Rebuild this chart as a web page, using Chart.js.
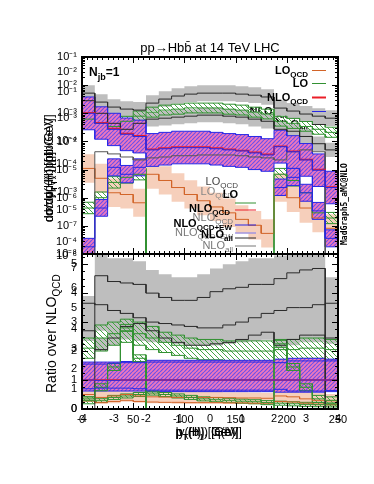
<!DOCTYPE html>
<html>
<head>
<meta charset="utf-8">
<script src="https://cdn.jsdelivr.net/npm/chart.js@4/dist/chart.umd.min.js"></script>
<style>
  html, body { margin: 0; padding: 0; background: #fff; }
  #wrap { position: relative; width: 374px; height: 484px; }
  canvas { position: absolute; left: 0; top: 0; }
</style>
</head>
<body>
<div id="wrap">
  <canvas id="top" width="374" height="484"></canvas>
  <canvas id="bot" width="374" height="484"></canvas>
</div>
<script>
// bin edges, pT(H) [GeV]
const binEdges = [0, 12.5, 25, 37.5, 50, 62.5, 75, 87.5, 100, 112.5, 125, 137.5, 150, 162.5, 175, 187.5, 200, 212.5, 225, 237.5, 250];

// tick labels
const xTicksA = [0, 50, 100, 150, 200, 250];
const xTicksB = [-4, -3, -2, -1, 0, 1, 2, 3, 4];
const topTicksA = [1e-8, 1e-7, 1e-6, 1e-5, 1e-4, 1e-3, 1e-2, 1e-1];
const topTicksB = [1e-6, 1e-5, 1e-4, 1e-3, 1e-2];
const topTicksC = [1e-4, 1e-3, 1e-2, 1e-1];
const ratioTicksA = [0, 1, 2, 3, 4, 5];
const ratioTicksB = [0, 1, 2, 3, 4, 5, 6, 7];

// legend labels (main text, subscript)
const legendMain = ['LO', 'LO', 'NLO', 'NLO', 'NLO'];
const legendSub = ['QCD', '', 'QCD', 'QCD+EW', 'all'];

// --- top panel: dsigma/dpT [pb/GeV] ---
const nloAllA = [5.2e-3, 2.5e-3, 1.66e-3, 1.41e-3, 1.3e-3, 2.3e-3, 3.2e-3, 4.1e-3, 4.8e-3, 5.2e-3, 5.2e-3, 5.2e-3, 4.8e-3, 4.4e-3, 3.8e-3, 1.53e-3, 1.2e-3, 9.4e-4, 7.9e-4, 6.7e-4];
const nloAllAHi = [9.9e-3, 4.75e-3, 3.15e-3, 2.7e-3, 2.5e-3, 4.4e-3, 6.1e-3, 7.8e-3, 9.1e-3, 9.9e-3, 9.9e-3, 9.9e-3, 9.1e-3, 8.4e-3, 7.2e-3, 2.9e-3, 2.3e-3, 1.8e-3, 1.5e-3, 1.27e-3];
const nloAllALo = [2.7e-3, 1.3e-3, 8.7e-4, 7.4e-4, 6.8e-4, 1.2e-3, 1.7e-3, 2.2e-3, 2.5e-3, 2.7e-3, 2.7e-3, 2.7e-3, 2.5e-3, 2.3e-3, 2.0e-3, 8.1e-4, 6.3e-4, 4.9e-4, 4.2e-4, 3.5e-4];

const nloAllB = [2.8e-3, 1.0e-3, 4.4e-4, 2.7e-4, 4.4e-4, 6.2e-4, 6.7e-4, 7.3e-4, 7.9e-4, 8.6e-4, 8.6e-4, 7.9e-4, 7.3e-4, 6.2e-4, 5.2e-4, 2.7e-4, 2.3e-4, 1.5e-4, 8.3e-5, 5.0e-5];
const nloAllBHi = [5.0e-3, 1.8e-3, 7.9e-4, 4.9e-4, 7.9e-4, 1.1e-3, 1.2e-3, 1.3e-3, 1.4e-3, 1.55e-3, 1.55e-3, 1.4e-3, 1.3e-3, 1.1e-3, 9.4e-4, 4.9e-4, 4.1e-4, 2.7e-4, 1.5e-4, 9.0e-5];
const nloAllBLo = [1.6e-3, 5.6e-4, 2.4e-4, 1.5e-4, 2.4e-4, 3.4e-4, 3.7e-4, 4.1e-4, 4.4e-4, 4.8e-4, 4.8e-4, 4.4e-4, 4.1e-4, 3.4e-4, 2.9e-4, 1.5e-4, 1.3e-4, 8.3e-5, 4.6e-5, 2.8e-5];

const nloAllC = [0, 4.3e-5, 3.6e-5, 2.8e-5, 2.2e-5, 2.6e-5, 2.8e-5, 3.1e-5, 3.1e-5, 3.3e-5, 3.3e-5, 3.3e-5, 3.1e-5, 2.8e-5, 2.6e-5, 2.2e-5, 4.3e-5, 5.0e-5, 4.3e-5, 0];

const loA = [6.2e-4, 4.4e-4, 3.4e-4, 5.2e-4, 7.9e-4, 1.1e-3, 1.3e-3, 1.4e-3, 1.55e-3, 1.55e-3, 1.55e-3, 1.4e-3, 1.3e-3, 1.1e-3, 9.4e-4, 5.2e-4, 4.4e-4, 3.4e-4, 2.7e-4, 2.1e-4];
const loAHi = [9.3e-4, 6.6e-4, 5.1e-4, 7.8e-4, 1.2e-3, 1.65e-3, 1.95e-3, 2.1e-3, 2.3e-3, 2.3e-3, 2.3e-3, 2.1e-3, 1.95e-3, 1.65e-3, 1.4e-3, 7.8e-4, 6.6e-4, 5.1e-4, 4.0e-4, 3.2e-4];
const loALo = [4.1e-4, 2.9e-4, 2.3e-4, 3.5e-4, 5.3e-4, 7.3e-4, 8.7e-4, 9.3e-4, 1.03e-3, 1.03e-3, 1.03e-3, 9.3e-4, 8.7e-4, 7.3e-4, 6.3e-4, 3.5e-4, 2.9e-4, 2.3e-4, 1.8e-4, 1.4e-4];

const loB = [4.3e-7, 1.0e-6, 3.5e-6, 5.3e-6, 6.8e-6, 0, 0, 0, 0, 0, 0, 0, 0, 0, 0, 6.8e-6, 4.1e-6, 1.5e-6, 2.9e-7, 1.9e-7];
const loBHi = [6.9e-7, 1.6e-6, 5.6e-6, 8.5e-6, 1.1e-5, 0, 0, 0, 0, 0, 0, 0, 0, 0, 0, 1.1e-5, 6.6e-6, 2.4e-6, 4.6e-7, 3.0e-7];
const loBLo = [2.7e-7, 6.3e-7, 2.2e-6, 3.3e-6, 4.3e-6, 0, 0, 0, 0, 0, 0, 0, 0, 0, 0, 4.3e-6, 2.6e-6, 9.4e-7, 1.8e-7, 1.2e-7];

const nloQcdEwA = [1.0e-3, 4.4e-4, 2.7e-4, 1.8e-4, 1.5e-4, 5.0e-5, 5.5e-5, 6.0e-5, 6.0e-5, 6.0e-5, 5.5e-5, 5.0e-5, 4.6e-5, 3.9e-5, 3.3e-5, 6.5e-5, 4.3e-5, 2.2e-5, 9.5e-6, 2.3e-6];
const nloQcdA = [1.05e-3, 4.6e-4, 2.9e-4, 1.9e-4, 1.6e-4, 5.3e-5, 5.8e-5, 6.3e-5, 6.3e-5, 6.3e-5, 5.8e-5, 5.3e-5, 4.8e-5, 4.1e-5, 3.5e-5, 6.8e-5, 4.5e-5, 2.3e-5, 1.0e-5, 2.4e-6];
const nloBandAHi = [3.8e-3, 1.7e-3, 1.0e-3, 6.8e-4, 5.7e-4, 1.9e-4, 2.1e-4, 2.3e-4, 2.3e-4, 2.3e-4, 2.1e-4, 1.9e-4, 1.75e-4, 1.5e-4, 1.25e-4, 2.5e-4, 1.6e-4, 8.4e-5, 3.6e-5, 8.7e-6];
const nloBandALo = [2.6e-4, 1.2e-4, 7.1e-5, 4.7e-5, 3.9e-5, 1.3e-5, 1.45e-5, 1.6e-5, 1.6e-5, 1.6e-5, 1.45e-5, 1.3e-5, 1.2e-5, 1.0e-5, 8.7e-6, 1.7e-5, 1.1e-5, 5.8e-6, 2.5e-6, 6.1e-7];

const nloQcdEwB = [1.8e-8, 4.3e-7, 1.2e-5, 6.8e-6, 1.2e-5, 0, 0, 0, 0, 0, 0, 0, 0, 0, 0, 2.3e-6, 5.3e-6, 1.5e-6, 3.4e-7, 3.6e-8];
const nloBandBHi = [3.6e-8, 8.6e-7, 2.4e-5, 1.4e-5, 2.4e-5, 0, 0, 0, 0, 0, 0, 0, 0, 0, 0, 4.6e-6, 1.1e-5, 3.0e-6, 6.8e-7, 7.2e-8];
const nloBandBLo = [9e-9, 2.2e-7, 6e-6, 3.4e-6, 6e-6, 0, 0, 0, 0, 0, 0, 0, 0, 0, 0, 1.2e-6, 2.7e-6, 7.5e-7, 1.7e-7, 1.8e-8];

const loQcd = [1.1e-5, 4.9e-6, 1.5e-6, 1.3e-6, 6.6e-7, 6.8e-6, 4.1e-6, 2.3e-6, 1.3e-6, 7.8e-7, 4.7e-7, 2.9e-7, 1.7e-7, 1.05e-7, 5.4e-8, 2.3e-6, 1.0e-6, 4.3e-7, 1.9e-7, 8.2e-8];
const loQcdHi = [3.5e-5, 1.6e-5, 4.8e-6, 4.2e-6, 2.1e-6, 2.2e-5, 1.3e-5, 7.4e-6, 4.2e-6, 2.5e-6, 1.5e-6, 9.3e-7, 5.4e-7, 3.4e-7, 1.7e-7, 7.4e-6, 3.2e-6, 1.4e-6, 6.1e-7, 2.6e-7];
const loQcdLo = [3.4e-6, 1.5e-6, 4.7e-7, 4.1e-7, 2.1e-7, 2.1e-6, 1.3e-6, 7.2e-7, 4.1e-7, 2.4e-7, 1.5e-7, 9.1e-8, 5.3e-8, 3.3e-8, 1.7e-8, 7.2e-7, 3.1e-7, 1.3e-7, 5.9e-8, 2.6e-8];

// --- bottom panel: ratio over NLO_QCD ---
const rNloAllA = [0, 4.6, 4.4, 4.35, 4.3, 4.0, 3.85, 3.75, 3.75, 3.85, 4.05, 4.15, 4.2, 4.3, 4.3, 4.5, 4.7, 4.8, 4.85, 0];
const rNloAllAHi = [0, 5.4, 5.2, 5.2, 5.1, 4.8, 4.65, 4.55, 4.55, 4.65, 4.85, 5.0, 5.1, 5.2, 5.2, 5.3, 5.5, 5.6, 5.6, 0];
const rNloAllALo = [0, 3.8, 3.6, 3.5, 3.5, 3.2, 3.05, 2.95, 2.95, 3.05, 3.25, 3.35, 3.4, 3.5, 3.5, 3.7, 3.9, 4.0, 4.05, 0];

const rNloAllB = [3.65, 3.6, 3.4, 3.3, 3.15, 3.0, 2.95, 2.9, 2.85, 2.8, 2.8, 2.9, 3.0, 3.15, 3.3, 3.4, 3.5, 3.5, 3.6, 3.65];
const rNloAllBHi = [3.9, 4.5, 4.3, 4.2, 4.05, 3.9, 3.85, 3.8, 3.75, 3.7, 3.7, 3.8, 3.9, 4.05, 4.2, 4.3, 4.4, 4.4, 4.5, 4.55];
const rNloAllBLo = [2.6, 2.7, 2.5, 2.4, 2.35, 2.3, 2.3, 2.25, 2.25, 2.2, 2.2, 2.25, 2.3, 2.35, 2.4, 2.5, 2.6, 2.6, 2.7, 2.75];

const rNloAllC = [2.7, 2.05, 2.45, 2.85, 2.95, 2.7, 2.45, 2.3, 2.2, 2.2, 2.25, 2.3, 2.4, 2.55, 2.65, 2.2, 2.4, 2.55, 2.55, 2.45];
const rNloAllCHi = [3.1, 2.45, 2.85, 3.25, 3.35, 3.1, 2.85, 2.7, 2.6, 2.6, 2.65, 2.7, 2.8, 2.95, 3.05, 2.6, 2.8, 2.95, 2.95, 2.85];
const rNloAllCLo = [2.35, 2.0, 2.2, 2.5, 2.6, 2.4, 2.3, 2.25, 2.2, 2.2, 2.2, 2.25, 2.3, 2.35, 2.4, 2.1, 2.2, 2.3, 2.3, 2.25];

const rLoA = [2.1, 2.45, 2.6, 2.7, 2.6, 2.45, 2.3, 2.2, 2.1, 2.05, 2.05, 2.0, 2.0, 2.0, 2.0, 2.05, 2.05, 2.1, 2.1, 2.05];
const rLoAHi = [2.45, 2.9, 3.0, 3.1, 3.0, 2.85, 2.65, 2.55, 2.45, 2.4, 2.4, 2.35, 2.35, 2.35, 2.35, 2.4, 2.4, 2.45, 2.45, 2.4];
const rLoALo = [1.75, 2.0, 2.2, 2.3, 2.2, 2.05, 1.95, 1.85, 1.75, 1.7, 1.7, 1.65, 1.65, 1.65, 1.65, 1.7, 1.7, 1.75, 1.75, 1.7];

const rLoB = [0.3, 0.75, 1.45, 2.8, 1.75, 0, 0, 0, 0, 0, 0, 0, 0, 0, 0, 2.25, 1.45, 0.75, 0.35, 0.3];
const rLoBHi = [0.42, 0.87, 1.57, 2.92, 1.87, 0, 0, 0, 0, 0, 0, 0, 0, 0, 0, 2.37, 1.57, 0.87, 0.47, 0.42];
const rLoBLo = [0.18, 0.63, 1.33, 2.68, 1.63, 0, 0, 0, 0, 0, 0, 0, 0, 0, 0, 2.13, 1.33, 0.63, 0.23, 0.18];

const rLoC = [0.35, 0.3, 0.4, 0.45, 0.5, 0.55, 0.5, 0.45, 0.4, 0.35, 0.32, 0.3, 0.27, 0.25, 0.22, 0.2, 0.18, 0.16, 0.15, 0.14];
const rLoCHi = [0.42, 0.37, 0.47, 0.52, 0.57, 0.62, 0.57, 0.52, 0.47, 0.42, 0.39, 0.37, 0.34, 0.32, 0.29, 0.27, 0.25, 0.23, 0.22, 0.21];
const rLoCLo = [0.28, 0.23, 0.33, 0.38, 0.43, 0.48, 0.43, 0.38, 0.33, 0.28, 0.25, 0.23, 0.2, 0.18, 0.15, 0.13, 0.11, 0.09, 0.08, 0.07];

const rNloQcd = [1, 1, 1, 1, 1, 1, 1, 1, 1, 1, 1, 1, 1, 1, 1, 1, 1, 1, 1, 1];
const rNloQcdEw = [1.0, 0.99, 0.99, 1.0, 1.0, 1.0, 1.0, 1.0, 1.0, 1.0, 1.0, 1.0, 1.0, 1.0, 1.0, 1.0, 1.0, 1.0, 1.0, 1.0];
const rNloBandHi = [1.62, 1.62, 1.62, 1.64, 1.64, 1.68, 1.68, 1.68, 1.68, 1.68, 1.68, 1.68, 1.68, 1.68, 1.68, 1.72, 1.75, 1.75, 1.75, 1.72];
const rNloBandLo = [0.62, 0.62, 0.62, 0.62, 0.62, 0.6, 0.6, 0.6, 0.6, 0.6, 0.6, 0.6, 0.6, 0.6, 0.6, 0.58, 0.58, 0.58, 0.58, 0.6];
const rNloEwHi = [1.55, 1.55, 1.58, 1.6, 1.6, 1.62, 1.62, 1.62, 1.62, 1.62, 1.62, 1.62, 1.62, 1.62, 1.62, 1.6, 1.66, 1.66, 1.66, 1.66];
const rNloEwLo = [0.7, 0.72, 0.72, 0.72, 0.7, 0.65, 0.65, 0.65, 0.65, 0.65, 0.65, 0.65, 0.65, 0.65, 0.65, 0.68, 0.62, 0.62, 0.62, 0.64];

const rLoQcd = [0.5, 0.4, 0.45, 0.5, 0.45, 0.42, 0.41, 0.4, 0.4, 0.4, 0.4, 0.39, 0.38, 0.38, 0.37, 0.45, 0.42, 0.35, 0.3, 0.28];
const rLoQcdHi = [0.75, 0.65, 0.7, 0.72, 0.68, 0.62, 0.6, 0.6, 0.6, 0.6, 0.6, 0.58, 0.58, 0.57, 0.56, 0.68, 0.66, 0.6, 0.55, 0.52];
const rLoQcdLo = [0.25, 0.18, 0.2, 0.25, 0.22, 0.2, 0.2, 0.18, 0.18, 0.18, 0.18, 0.17, 0.17, 0.16, 0.15, 0.2, 0.18, 0.12, 0.1, 0.08];
const rLoQcdB = [0.28, 0.22, 0.26, 0.3, 0.26, 0.24, 0.23, 0.23, 0.22, 0.22, 0.22, 0.21, 0.21, 0.2, 0.2, 0.26, 0.24, 0.2, 0.17, 0.15];

// colours
const GRAY = '#bebebe';
const BLACK = '#2a2a2a';
const ORANGE = 'rgb(210,100,40)';
const SALMON = 'rgba(238,160,120,0.5)';
const GREEN = 'rgb(50,145,50)';
const RED = 'rgb(235,30,40)';
const BLUE = 'rgb(40,40,230)';
const FONT = "'Liberation Sans', Arial, Helvetica, sans-serif";
const SUP = { '-': '\u207b', '0': '\u2070', '1': '\u00b9', '2': '\u00b2', '3': '\u00b3', '4': '\u2074', '5': '\u2075', '6': '\u2076', '7': '\u2077', '8': '\u2078', '9': '\u2079' };

function pow10(v) {
  const e = Math.round(Math.log10(v));
  return '10' + String(e).split('').map(c => SUP[c]).join('');
}

function makeHatch(bg, fg, size, dir, lw) {
  const c = document.createElement('canvas');
  c.width = size; c.height = size;
  const g = c.getContext('2d');
  if (bg) { g.fillStyle = bg; g.fillRect(0, 0, size, size); }
  g.strokeStyle = fg; g.lineWidth = lw || 1;
  g.beginPath();
  for (let k = -1; k <= 1; k++) {
    if (dir > 0) { g.moveTo(k * size, size); g.lineTo(k * size + size, 0); }
    else { g.moveTo(k * size, 0); g.lineTo(k * size + size, size); }
  }
  g.stroke();
  return g.createPattern(c, 'repeat');
}
const purpleHatch = makeHatch('rgb(238,120,188)', 'rgb(110,80,235)', 4, 1, 1.2);
const greenHatch = makeHatch(null, 'rgb(70,165,70)', 5, -1, 1);

// contiguous runs of filled bins; 'gap' series are split at empty bins
function runs(vals, mode) {
  if (mode !== 'gap') return [[0, vals.length]];
  const out = [];
  let s = -1;
  vals.forEach((v, i) => {
    if (v > 0 && s < 0) s = i;
    if (v <= 0 && s >= 0) { out.push([s, i]); s = -1; }
  });
  if (s >= 0) out.push([s, vals.length]);
  return out;
}

// histogram as pairs of points (left edge, right edge) per bin
// empty bins in 'floor' mode drop below the log axis
function hist(vals, mode, a, b) {
  const pts = [];
  for (let i = a; i < b; i++) {
    const v = vals[i];
    const y = (v <= 0 && mode === 'floor') ? 1e-12 : v;
    pts.push({ x: binEdges[i], y: y }, { x: binEdges[i + 1], y: y });
  }
  return pts;
}

let ord = 1000;
function band(sets, lo, hi, fill, edge, mode) {
  const o = ord--;
  runs(hi, mode).forEach(r => {
    sets.push({ data: hist(lo, mode, r[0], r[1]), borderColor: edge || 'rgba(0,0,0,0)', borderWidth: edge ? 1 : 0, fill: false, order: o, yAxisID: 'y', xAxisID: 'x' });
    sets.push({ data: hist(hi, mode, r[0], r[1]), borderColor: edge || 'rgba(0,0,0,0)', borderWidth: edge ? 1 : 0, backgroundColor: fill, fill: '-1', order: o, yAxisID: 'y', xAxisID: 'x' });
  });
}
function line(sets, vals, color, width, mode) {
  const o = ord--;
  runs(vals, mode).forEach(r => {
    sets.push({ data: hist(vals, mode, r[0], r[1]), borderColor: color, borderWidth: width, fill: false, order: o, yAxisID: 'y', xAxisID: 'x' });
  });
}

// top panel datasets, back to front
const topSets = [];
band(topSets, nloAllALo, nloAllAHi, GRAY, null, 'floor');
band(topSets, nloAllBLo, nloAllBHi, GRAY, null, 'floor');
band(topSets, loQcdLo, loQcdHi, SALMON, null, 'floor');
band(topSets, loBLo, loBHi, greenHatch, GREEN, 'floor');
band(topSets, loALo, loAHi, greenHatch, GREEN, 'floor');
band(topSets, nloBandALo, nloBandAHi, purpleHatch, BLUE, 'floor');
band(topSets, nloBandBLo, nloBandBHi, purpleHatch, BLUE, 'gap');
line(topSets, loQcd, ORANGE, 1, 'floor');
line(topSets, loB, GREEN, 1, 'floor');
line(topSets, loA, GREEN, 1, 'floor');
line(topSets, nloAllC, '#555', 1, 'floor');
line(topSets, nloAllA, BLACK, 1, 'floor');
line(topSets, nloAllB, BLACK, 1, 'floor');
line(topSets, nloQcdA, RED, 1.5, 'floor');
line(topSets, nloQcdEwA, BLUE, 1, 'floor');
line(topSets, nloQcdEwB, BLUE, 1, 'gap');

// ratio datasets, back to front
const botSets = [];
band(botSets, rNloAllALo, rNloAllAHi, GRAY, null);
band(botSets, rNloAllBLo, rNloAllBHi, GRAY, null);
band(botSets, rNloAllCLo, rNloAllCHi, GRAY, null);
band(botSets, rLoQcdLo, rLoQcdHi, SALMON, null);
band(botSets, rLoALo, rLoAHi, greenHatch, GREEN);
band(botSets, rNloBandLo, rNloBandHi, purpleHatch, BLUE);
band(botSets, rLoCLo, rLoCHi, greenHatch, GREEN);
band(botSets, rLoBLo, rLoBHi, greenHatch, GREEN);
line(botSets, rLoQcd, ORANGE, 1);
line(botSets, rLoQcdB, ORANGE, 1);
line(botSets, rNloAllA, BLACK, 1);
line(botSets, rNloAllB, BLACK, 1);
line(botSets, rNloAllC, BLACK, 1);
line(botSets, rLoA, GREEN, 1);
line(botSets, rLoC, GREEN, 1);
line(botSets, rLoB, GREEN, 1);
line(botSets, rNloEwHi, BLUE, 1);
line(botSets, rNloEwLo, BLUE, 1);
line(botSets, rNloQcd, RED, 1.5);
line(botSets, rNloQcdEw, BLUE, 1);

// text with subscripts
function rich(ctx, segs, x, y, size, align, color, bold) {
  const w = segs.map(s => {
    ctx.font = (bold ? 'bold ' : '') + (s.sub ? Math.round(size * 0.72) : size) + 'px ' + FONT;
    return ctx.measureText(s.t).width;
  });
  const total = w.reduce((a, b) => a + b, 0);
  let cx = align === 'right' ? x - total : align === 'center' ? x - total / 2 : x;
  ctx.fillStyle = color; ctx.textAlign = 'left'; ctx.textBaseline = 'alphabetic';
  segs.forEach((s, i) => {
    ctx.font = (bold ? 'bold ' : '') + (s.sub ? Math.round(size * 0.72) : size) + 'px ' + FONT;
    ctx.fillText(s.t, cx, y + (s.sub ? size * 0.3 : 0));
    cx += w[i];
  });
}
function lbl(i) { return [{ t: legendMain[i] }, { t: legendSub[i], sub: true }]; }

function seg(ctx, x1, y1, x2, y2) { ctx.beginPath(); ctx.moveTo(x1, y1); ctx.lineTo(x2, y2); ctx.stroke(); }

function xTickMarks(ctx, chart) {
  const a = chart.chartArea, x = chart.scales.x;
  ctx.strokeStyle = '#000'; ctx.lineWidth = 1;
  for (let v = 0; v <= 250; v += 5) {
    const px = Math.round(x.getPixelForValue(v)) + 0.5;
    const L = v % 50 === 0 ? 6 : 3;
    seg(ctx, px, a.top, px, a.top + L);
    seg(ctx, px, a.bottom, px, a.bottom - L);
  }
}

// tick labels of the overlaid (hidden) axes, placed through their scales
function ghostY(ctx, scale, ticks, fmt, xr) {
  ctx.font = '11px ' + FONT; ctx.fillStyle = '#000';
  ctx.textAlign = 'right'; ctx.textBaseline = 'middle';
  ticks.forEach(v => ctx.fillText(fmt(v), xr, scale.getPixelForValue(v)));
}
function ghostX(ctx, scale, ticks, yt) {
  ctx.font = '11px ' + FONT; ctx.fillStyle = '#000';
  ctx.textAlign = 'center'; ctx.textBaseline = 'top';
  ticks.forEach(v => ctx.fillText(String(v), scale.getPixelForValue(v), yt));
}

const ticksStyle = { font: { family: FONT, size: 11 }, color: '#000', autoSkip: false, maxRotation: 0 };
const legendY = [74, 87, 101, 115, 128];
const legendCol = [ORANGE, GREEN, RED, BLUE, BLACK];

const decorTop = {
  id: 'decorTop',
  beforeDatasetsDraw(chart) {
    // the lower two legend entries sit under the bands
    const ctx = chart.ctx;
    ctx.save();
    for (let i = 3; i < 5; i++) rich(ctx, lbl(i), 308, legendY[i], 11, 'right', '#000', true);
    ctx.restore();
  },
  afterDatasetsDraw(chart) {
    const ctx = chart.ctx;
    ctx.save();
    for (let i = 0; i < 3; i++) rich(ctx, lbl(i), 308, legendY[i], 11, 'right', '#000', true);
    legendY.forEach((y, i) => {
      ctx.strokeStyle = legendCol[i]; ctx.lineWidth = i === 2 ? 2 : 1;
      seg(ctx, 312, y - 3.5, 326, y - 3.5);
    });
    // second legend, faint copy
    rich(ctx, lbl(0), 238, 185, 11, 'right', '#444', false);
    rich(ctx, lbl(0), 233, 195, 11, 'right', '#888', false);
    rich(ctx, lbl(1), 238, 198, 11, 'right', '#000', true);
    rich(ctx, lbl(2), 230, 212, 11, 'right', '#000', true);
    rich(ctx, lbl(2), 233, 221, 11, 'right', '#777', false);
    rich(ctx, lbl(3), 232, 227, 11, 'right', '#000', true);
    rich(ctx, lbl(3), 233, 236, 11, 'right', '#777', false);
    rich(ctx, lbl(4), 233, 238, 11, 'right', '#000', true);
    rich(ctx, lbl(4), 233, 249, 11, 'right', '#777', false);
    const samp = [[203, GREEN], [210, RED], [225, BLUE], [233, 'rgb(120,120,240)'], [238, BLACK], [246, '#777']];
    samp.forEach(s => { ctx.strokeStyle = s[1]; ctx.lineWidth = 1; seg(ctx, 235, s[0], 256, s[0]); });
    ctx.restore();
  },
  afterDraw(chart) {
    const ctx = chart.ctx, a = chart.chartArea, y = chart.scales.y;
    ctx.save();
    xTickMarks(ctx, chart);
    for (let d = -8; d <= -1; d++) {
      for (let m = 1; m <= 9; m++) {
        const v = m * Math.pow(10, d);
        if (v > 0.1001) break;
        const py = Math.round(y.getPixelForValue(v)) + 0.5;
        const L = m === 1 ? 6 : 3;
        seg(ctx, a.left, py, a.left + L, py);
        seg(ctx, a.right, py, a.right - L, py);
      }
    }
    ctx.strokeStyle = '#000'; ctx.lineWidth = 2;
    ctx.strokeRect(a.left, a.top, a.right - a.left, a.bottom - a.top);
    ghostY(ctx, chart.scales.yB, topTicksB, pow10, a.left - 5);
    ghostY(ctx, chart.scales.yC, topTicksC, pow10, a.left - 5);
    // title
    ctx.fillStyle = '#000'; ctx.textAlign = 'center'; ctx.textBaseline = 'alphabetic';
    ctx.font = '13px ' + FONT;
    ctx.fillText('pp\u2192Hbb\u0304 at 14 TeV LHC', 210, 52);
    rich(ctx, [{ t: 'N' }, { t: 'jb', sub: true }, { t: '=1' }], 89, 76, 12, 'left', '#000', true);
    // y title (overlapping variants)
    ctx.save();
    ctx.translate(53, 222); ctx.rotate(-Math.PI / 2);
    rich(ctx, [{ t: 'd\u03c3/dp' }, { t: 'T', sub: true }, { t: '(H) [pb/GeV]' }], 0, 0, 12, 'left', '#000', false);
    rich(ctx, [{ t: 'd\u03c3/dy(H) [pb]' }], 0, 0, 12, 'left', '#000', false);
    rich(ctx, [{ t: 'd\u03c3/dp' }, { t: 'T', sub: true }, { t: '(b) [pb/GeV]' }], 6, 0, 12, 'left', '#000', false);
    ctx.restore();
    // generator tag
    ctx.save();
    ctx.translate(347, 245); ctx.rotate(-Math.PI / 2);
    ctx.font = "bold 8px 'DejaVu Sans Mono', monospace"; ctx.fillStyle = '#000'; ctx.textAlign = 'left';
    ctx.fillText('MadGraph5_aMC@NLO', 0, 0);
    ctx.restore();
    ctx.restore();
  }
};

const decorBot = {
  id: 'decorBot',
  afterDraw(chart) {
    const ctx = chart.ctx, a = chart.chartArea, y = chart.scales.y;
    ctx.save();
    xTickMarks(ctx, chart);
    for (let v = 0; v <= 5.3; v += 0.25) {
      const py = Math.round(y.getPixelForValue(v)) + 0.5;
      const L = Math.abs(v - Math.round(v)) < 1e-6 ? 6 : 3;
      seg(ctx, a.left, py, a.left + L, py);
      seg(ctx, a.right, py, a.right - L, py);
    }
    ctx.strokeStyle = '#000'; ctx.lineWidth = 2;
    ctx.strokeRect(a.left, a.top, a.right - a.left, a.bottom - a.top);
    ghostY(ctx, chart.scales.y2, ratioTicksB, v => String(v), a.left - 5);
    ghostX(ctx, chart.scales.x2, xTicksB, a.bottom + 4);
    // y title
    ctx.save();
    ctx.translate(56, 393); ctx.rotate(-Math.PI / 2);
    rich(ctx, [{ t: 'Ratio over NLO' }, { t: 'QCD', sub: true }], 0, 0, 14, 'left', '#000', false);
    ctx.restore();
    // x title (overlapping variants)
    rich(ctx, [{ t: 'p' }, { t: 'T', sub: true }, { t: '(H) [GeV]' }], 207, 436, 12, 'center', '#000', false);
    rich(ctx, [{ t: '|y(H)|, |\u03b7(b)|' }], 207, 436, 12, 'center', '#000', false);
    rich(ctx, [{ t: 'p' }, { t: 'T', sub: true }, { t: '(b' }, { t: '1', sub: true }, { t: ') [GeV]' }], 209, 436, 12, 'center', '#000', false);
    ctx.restore();
  }
};

function yAxis(type, min, max, ticks, width, cb, show) {
  return {
    type: type, position: 'left', min: min, max: max, display: show,
    afterFit: s => { s.width = width; },
    afterBuildTicks: s => { s.ticks = ticks.map(v => ({ value: v })); },
    ticks: Object.assign({ callback: cb, padding: 5 }, ticksStyle),
    grid: { display: false, drawTicks: false },
    border: { display: false }
  };
}
function xAxis(min, max, ticks, height, show) {
  return {
    type: 'linear', position: 'bottom', min: min, max: max, display: show,
    afterFit: s => { s.height = height; },
    afterBuildTicks: s => { s.ticks = ticks.map(v => ({ value: v })); },
    ticks: Object.assign({ callback: v => String(v), padding: 4 }, ticksStyle),
    grid: { display: false, drawTicks: false },
    border: { display: false }
  };
}

const baseOpts = {
  responsive: false,
  animation: false,
  devicePixelRatio: 1,
  elements: { point: { radius: 0 }, line: { tension: 0 } },
  plugins: { legend: { display: false }, tooltip: { enabled: false } }
};

new Chart(document.getElementById('top'), {
  type: 'line',
  data: { datasets: topSets },
  options: Object.assign({}, baseOpts, {
    layout: { padding: { left: 0, right: 36, top: 57, bottom: 230 } },
    scales: {
      x: xAxis(0, 250, xTicksA, 0, false),
      y: yAxis('logarithmic', 1e-8, 1e-1, topTicksA, 82, pow10, true),
      yB: yAxis('logarithmic', 1.1e-6, 2.12e-2, topTicksB, 0, pow10, false),
      yC: yAxis('logarithmic', 5.75e-5, 0.5, topTicksC, 0, pow10, false)
    }
  }),
  plugins: [decorTop]
});

new Chart(document.getElementById('bot'), {
  type: 'line',
  data: { datasets: botSets },
  options: Object.assign({}, baseOpts, {
    layout: { padding: { left: 0, right: 36, top: 254, bottom: 55 } },
    scales: {
      x: xAxis(0, 250, xTicksA, 20, true),
      x2: xAxis(-4, 4, xTicksB, 0, false),
      y: yAxis('linear', 0, 5.35, ratioTicksA, 82, v => String(v), true),
      y2: yAxis('linear', 0, 7.7, ratioTicksB, 0, v => String(v), false)
    }
  }),
  plugins: [decorBot]
});
</script>
</body>
</html>
